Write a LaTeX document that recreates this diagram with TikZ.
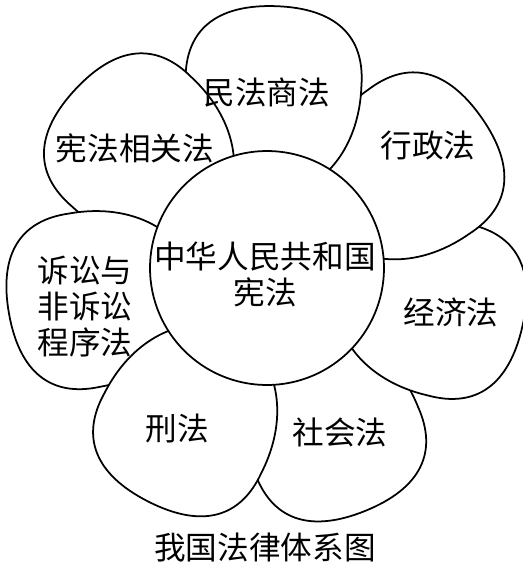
\documentclass[tikz,border=0pt]{standalone}
\usepackage{fontspec}
\newfontfamily\cjk{Noto Sans CJK SC}

\begin{document}
\begin{tikzpicture}[x=0.02cm,y=-0.02cm,
  font=\cjk\fontsize{18}{20.5}\selectfont,
  petal/.style={draw=black,fill=white,line width=1pt},
  lab/.style={align=center,inner sep=0pt},
  leaf/.pic={\draw[petal] (70,0) .. controls (75,-50) and (120,-88) .. (185,-88)
     .. controls (235,-90) and (262,-60) .. (262,0)
     .. controls (262,60) and (235,90) .. (185,88)
     .. controls (120,88) and (75,50) .. cycle;}]
\useasboundingbox (0,0) rectangle (522,569);
\coordinate (ctr) at (267,268);
% petals, each one lies over the one before
\pic[rotate=-68] at (ctr) {leaf};
\pic[rotate=-13] at (ctr) {leaf};
\pic[rotate=35] at (ctr) {leaf};
\pic[rotate=88] at (ctr) {leaf};
\pic[rotate=137] at (ctr) {leaf};
\pic[rotate=190] at (ctr) {leaf};
\pic[rotate=243] at (ctr) {leaf};
\node[petal,circle,minimum size=4.68cm,inner sep=0pt] (hub) at (ctr) {};
\node[lab] (core) at (265,274) {中华人民共和国\\宪法};
\node[lab] (minfa) at (267,92) {民法商法};
\node[lab] (xingzheng) at (428,146) {行政法};
\node[lab] (jingji) at (451,312) {经济法};
\node[lab] (shehui) at (340,432) {社会法};
\node[lab] (xingfa) at (177,428) {刑法};
\node[lab] (susong) at (85,307) {诉讼与\\非诉讼\\程序法};
\node[lab] (xianfa) at (135,148) {宪法相关法};
\node[lab] (caption) at (265,548) {我国法律体系图};
\end{tikzpicture}
\end{document}
